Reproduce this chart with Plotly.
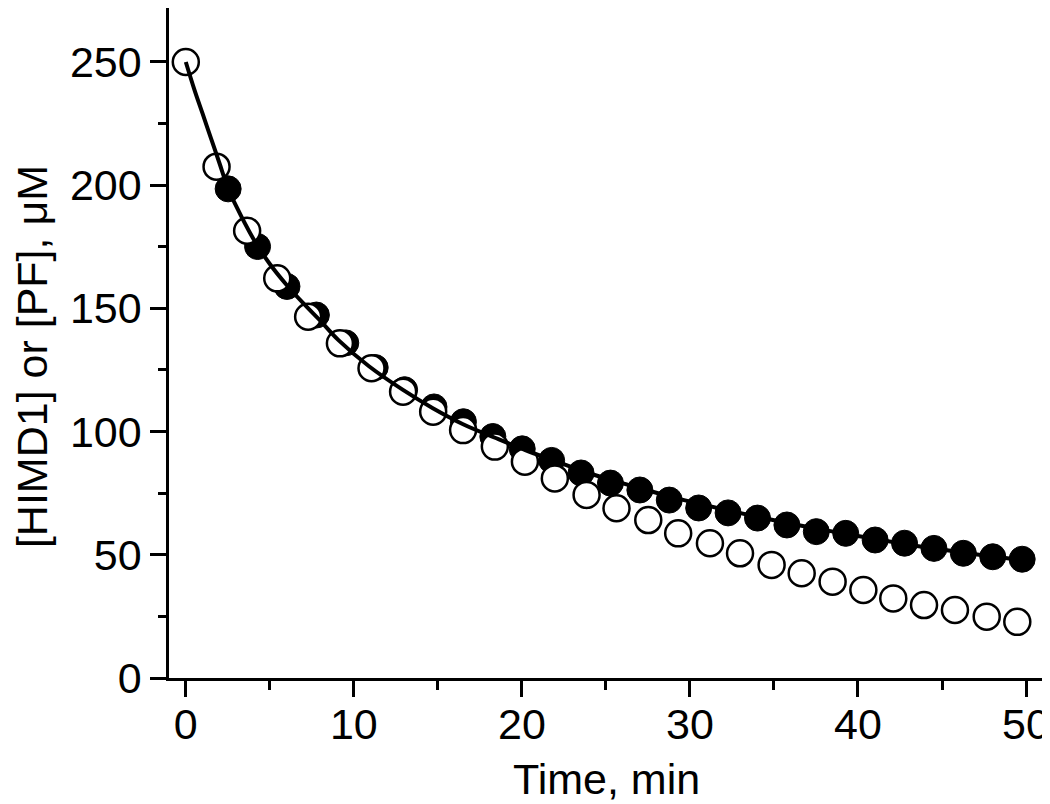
import plotly.graph_objects as go

# Open circles - time (min) and concentration (uM)
open_t = [0.0, 1.83, 3.65, 5.44, 7.28, 9.17, 11.05, 12.93, 14.72, 16.5, 18.39, 20.18, 21.96, 23.85,
          25.63, 27.52, 29.3, 31.19, 32.98, 34.86, 36.65, 38.49, 40.32, 42.1, 43.93, 45.77, 47.66, 49.48]
open_y = [250.0, 207.5, 181.5, 162.2, 146.6, 135.8, 125.7, 116.2, 108.1, 100.6, 93.9, 87.8, 81.0, 74.3,
          68.9, 64.1, 58.7, 54.7, 50.6, 45.9, 42.5, 39.1, 35.7, 32.3, 29.6, 27.6, 24.9, 22.8]

# Filled circles
filled_t = [2.52, 4.27, 6.02, 7.77, 9.52, 11.27, 13.02, 14.77, 16.52, 18.27, 20.02, 21.77, 23.52, 25.27,
            27.02, 28.77, 30.52, 32.27, 34.02, 35.77, 37.52, 39.27, 41.02, 42.77, 44.52, 46.27, 48.02, 49.77]
filled_y = [198.5, 175.1, 158.9, 147.3, 136.0, 126.0, 117.0, 110.0, 104.0, 98.0, 93.0, 88.3, 83.2, 79.1,
            76.3, 72.2, 69.0, 67.0, 64.9, 62.1, 59.4, 58.7, 56.0, 54.7, 52.6, 50.6, 49.2, 48.2]

# Fit curve
fit_t = [0.0, 0.5, 1.0, 1.5, 2.0, 2.5, 3.0, 4.0, 5.0, 6.0, 7.0, 8.0, 9.1, 10.9, 12.9, 14.7, 16.5, 18.4,
         20.2, 22.0, 23.8, 25.6, 27.4, 29.2, 31.0, 32.8, 34.6, 36.4, 38.2, 40.0, 41.8, 43.6, 45.4,
         47.2, 49.0, 50.0]
fit_y = [250.0, 239.0, 229.0, 219.0, 209.0, 199.0, 191.5, 178.5, 168.0, 159.5, 152.0, 145.0, 137.0,
         126.5, 117.0, 109.5, 103.0, 97.5, 92.5, 88.0, 83.5, 79.8, 76.3, 73.0, 70.0, 67.2, 64.6,
         62.1, 59.8, 57.6, 55.5, 53.5, 51.7, 50.0, 48.5, 47.6]

x_ticks = [0, 10, 20, 30, 40, 50]
y_ticks = [0, 50, 100, 150, 200, 250]

FONT = "Liberation Sans, Arial, sans-serif"
FS = 43

fig = go.Figure()
fig.add_trace(go.Scatter(x=filled_t, y=filled_y, mode="markers",
                         marker=dict(symbol="circle", size=26, color="black",
                                     line=dict(color="black", width=1)),
                         showlegend=False))
fig.add_trace(go.Scatter(x=open_t, y=open_y, mode="markers",
                         marker=dict(symbol="circle", size=26, color="white",
                                     line=dict(color="black", width=2.5)),
                         showlegend=False))
fig.add_trace(go.Scatter(x=fit_t, y=fit_y, mode="lines", line=dict(color="black", width=4, shape="spline"),
                         showlegend=False))

axis_common = dict(showgrid=False, zeroline=False, showline=True, linecolor="black", linewidth=2.5,
                   ticks="outside", tickcolor="black", tickwidth=2.5,
                   tickfont=dict(family=FONT, size=FS, color="black"))

fig.update_xaxes(range=[-1.0, 50.95], tickvals=x_ticks, ticklen=16, ticklabelstandoff=-9,
                 minor=dict(dtick=5, tick0=0, ticks="outside", ticklen=9, tickwidth=2.5, tickcolor="black"),
                 **axis_common)
fig.update_yaxes(range=[0, 271.9], tickvals=y_ticks, ticklen=16,
                 minor=dict(dtick=25, tick0=0, ticks="outside", ticklen=8, tickwidth=2.5, tickcolor="black"),
                 **axis_common)

fig.add_annotation(text="Time, min", xref="paper", yref="paper", x=0.5017, y=-0.1507,
                   xanchor="center", yanchor="middle", showarrow=False,
                   font=dict(family=FONT, size=FS, color="black"))
fig.add_annotation(text="[HIMD1] or [PF], μM", xref="paper", yref="paper", x=-0.1569, y=0.479,
                   xanchor="center", yanchor="middle", textangle=-90, showarrow=False,
                   font=dict(family=FONT, size=FS, color="black"))

# page body adds an 8px offset, so the figure is 8px smaller in each direction
fig.update_layout(width=1042, height=796, margin=dict(l=161, r=8, t=0, b=126),
                  paper_bgcolor="white", plot_bgcolor="white")

fig.write_html("out.html")
